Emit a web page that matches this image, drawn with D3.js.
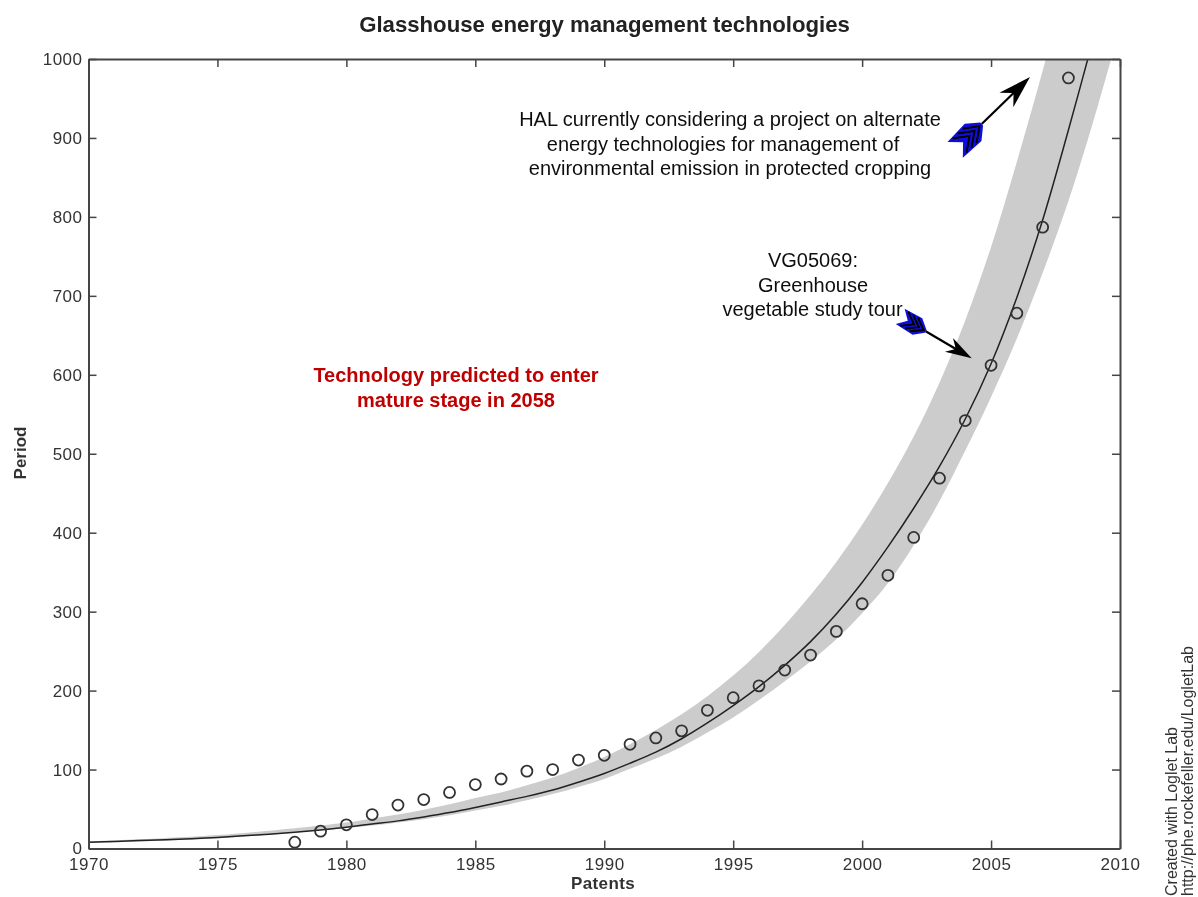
<!DOCTYPE html>
<html>
<head>
    <meta charset="utf-8">
    <title>Glasshouse energy management technologies</title>
    <script src="https://d3js.org/d3.v7.min.js"></script>
    <style>
        html, body {
            margin: 0;
            background: #fff;
            overflow: hidden;
        }
        text {
            font-family: "Liberation Sans", Arial, sans-serif;
        }
    </style>
</head>
<body>
    <svg id="svg"></svg>
    <script>
        // values
        const pointYears = [1978, 1979, 1980, 1981, 1982, 1983, 1984, 1985, 1986, 1987, 1988, 1989, 1990, 1991, 1992, 1993, 1994, 1995, 1996, 1997, 1998, 1999, 2000, 2001, 2002, 2003, 2004, 2005, 2006, 2007, 2008];
        const pointValues = [8, 22, 30, 43, 55, 62, 71, 81, 88, 98, 100, 112, 118, 132, 140, 149, 175, 191, 206, 226, 245, 275, 310, 346, 394, 469, 542, 612, 678, 787, 976];

        const curveYears = [1970, 1971, 1972, 1973, 1974, 1975, 1976, 1977, 1978, 1979, 1980, 1981, 1982, 1983, 1984, 1985, 1986, 1987, 1988, 1989, 1990, 1991, 1992, 1993, 1994, 1995, 1996, 1997, 1998, 1999, 2000, 2001, 2002, 2003, 2004, 2005, 2006, 2007, 2008, 2009];
        const curveValues = [8, 9, 10, 11, 12.5, 14, 16, 18, 20.5, 23.5, 27, 31, 35, 40, 45.5, 52, 59, 66, 74, 84, 95, 108, 122, 139, 159, 181, 205, 232, 262, 297, 337, 382, 431, 484, 544, 614, 698, 796, 910, 1030];

        const bandYears = [1970, 1975, 1980, 1981, 1982, 1983, 1984, 1985, 1986, 1987, 1988, 1989, 1990, 1991, 1992, 1993, 1994, 1995, 1996, 1997, 1998, 1999, 2000, 2001, 2002, 2003, 2004, 2005, 2006, 2007, 2008, 2009, 2010];
        const bandUpper = [9, 17, 33, 38, 43, 49, 56, 64, 71, 80, 90, 102, 116, 132, 150, 170, 193, 219, 249, 283, 321, 363, 410, 463, 522, 590, 669, 762, 870, 985, 1110, 1250, 1400];
        const bandLower = [7, 13, 26, 29, 33, 37, 42, 48, 54, 61, 69, 78, 88, 101, 114, 129, 147, 166, 188, 212, 237, 265, 298, 336, 384, 440, 504, 572, 646, 729, 820, 925, 1040];

        const xTicks = [1970, 1975, 1980, 1985, 1990, 1995, 2000, 2005, 2010];
        const yTicks = [0, 100, 200, 300, 400, 500, 600, 700, 800, 900, 1000];

        const width = 1198;
        const height = 897;
        const margins = { top: 59, left: 88.5, right: 78, bottom: 48.5 };

        const svg = d3.select("#svg")
            .attr("width", width)
            .attr("height", height);

        const defs = svg.append("defs");
        defs.append("clipPath").attr("id", "plotClip")
            .append("rect")
            .attr("x", margins.left)
            .attr("y", margins.top)
            .attr("width", width - margins.left - margins.right)
            .attr("height", height - margins.top - margins.bottom);
        // the reference is a slightly soft scan
        defs.append("filter").attr("id", "soft")
            .attr("x", 0).attr("y", 0).attr("width", 1).attr("height", 1)
            .attr("filterUnits", "objectBoundingBox")
            .append("feGaussianBlur").attr("stdDeviation", 0.45);

        const root = svg.append("g").attr("filter", "url(#soft)");
        root.append("rect").attr("width", width).attr("height", height).attr("fill", "#fff");

        const x = d3.scaleLinear().domain([1970, 2010]).range([margins.left, width - margins.right]);
        const y = d3.scaleLinear().domain([0, 1000]).range([height - margins.bottom, margins.top]);

        const plot = root.append("g").attr("clip-path", "url(#plotClip)");

        const band = d3.area()
            .x((d, i) => x(bandYears[i]))
            .y0((d, i) => y(bandLower[i]))
            .y1((d, i) => y(bandUpper[i]))
            .curve(d3.curveCatmullRom);

        plot.append("path")
            .attr("d", band(bandYears))
            .attr("fill", "#cccccc");

        const line = d3.line()
            .x((d, i) => x(curveYears[i]))
            .y((d, i) => y(curveValues[i]))
            .curve(d3.curveCatmullRom);

        plot.append("path")
            .attr("d", line(curveYears))
            .attr("fill", "none")
            .attr("stroke", "#222")
            .attr("stroke-width", 1.5);

        plot.selectAll("circle")
            .data(pointYears)
            .enter()
            .append("circle")
            .attr("cx", (d, i) => x(pointYears[i]))
            .attr("cy", (d, i) => y(pointValues[i]))
            .attr("r", 5.5)
            .attr("fill", "none")
            .attr("stroke", "#333")
            .attr("stroke-width", 1.8);

        // box with ticks on all four sides, labels only bottom and left
        const axes = [
            { axis: d3.axisBottom(x).tickValues(xTicks).tickFormat(d3.format("d")).tickPadding(9), at: [0, height - margins.bottom] },
            { axis: d3.axisTop(x).tickValues(xTicks).tickFormat(""), at: [0, margins.top] },
            { axis: d3.axisLeft(y).tickValues(yTicks).tickFormat(d3.format("d")).tickPadding(6), at: [margins.left, 0] },
            { axis: d3.axisRight(y).tickValues(yTicks).tickFormat(""), at: [width - margins.right, 0] }
        ];

        axes.forEach(a => {
            const g = root.append("g")
                .attr("transform", `translate(${a.at[0]}, ${a.at[1]})`)
                .call(a.axis.tickSize(-8).tickSizeOuter(0));
            g.select(".domain").attr("stroke", "#444").attr("stroke-width", 2);
            g.selectAll(".tick line").attr("stroke", "#444").attr("stroke-width", 1.5);
            g.selectAll(".tick text")
                .attr("fill", "#333")
                .style("font-family", '"Liberation Sans", Arial, sans-serif')
                .style("font-size", "17px")
                .style("letter-spacing", "0.5px");
        });

        root.append("text")
            .text("Glasshouse energy management technologies")
            .attr("x", 604.5)
            .attr("y", 32)
            .attr("text-anchor", "middle")
            .attr("font-weight", "bold")
            .attr("font-size", 22.2)
            .attr("fill", "#222");

        root.append("text")
            .text("Patents")
            .attr("x", 603)
            .attr("y", 889)
            .attr("text-anchor", "middle")
            .attr("font-weight", "bold")
            .attr("font-size", 17)
            .style("letter-spacing", "0.4px")
            .attr("fill", "#333");

        root.append("text")
            .text("Period")
            .attr("transform", "translate(26, 453) rotate(-90)")
            .attr("text-anchor", "middle")
            .attr("font-weight", "bold")
            .attr("font-size", 17)
            .attr("fill", "#333");

        function multiline(lines, cx, firstY, step, size, color, weight) {
            lines.forEach((s, i) => {
                root.append("text")
                    .text(s)
                    .attr("x", cx[i])
                    .attr("y", firstY + i * step)
                    .attr("text-anchor", "middle")
                    .attr("font-size", size)
                    .attr("font-weight", weight)
                    .attr("fill", color);
            });
        }

        multiline(["HAL currently considering a project on alternate", "energy technologies for management of", "environmental emission in protected cropping"],
            [730, 723, 730], 126, 24.5, 20, "#111", "normal");
        multiline(["VG05069:", "Greenhouse", "vegetable study tour"],
            [813, 813, 812.5], 267, 24.5, 20, "#111", "normal");
        multiline(["Technology predicted to enter", "mature stage in 2058"],
            [456, 456], 382, 24.5, 20, "#c00000", "bold");

        root.append("text")
            .text("Created with Loglet Lab")
            .attr("transform", "translate(1177, 896) rotate(-90)")
            .attr("font-size", 16)
            .attr("fill", "#333");
        root.append("text")
            .text("http://phe.rockefeller.edu/LogletLab")
            .attr("transform", "translate(1193, 896) rotate(-90)")
            .attr("font-size", 16)
            .attr("fill", "#333");

        // feathered arrow, from tail to tip, fletching scaled to fit
        function arrow(x0, y0, x1, y1, k) {
            const len = Math.hypot(x1 - x0, y1 - y0);
            const angle = Math.atan2(y1 - y0, x1 - x0) * 180 / Math.PI;
            const g = root.append("g")
                .attr("transform", `translate(${x0}, ${y0}) rotate(${angle})`);

            g.append("line")
                .attr("x1", 0).attr("y1", 0)
                .attr("x2", len - 12).attr("y2", 0)
                .attr("stroke", "#000")
                .attr("stroke-width", 2.2);

            g.append("path")
                .attr("d", `M${len},0L${len - 33 * k},${-10 * k}L${len - 23 * k},0L${len - 33 * k},${10 * k}Z`)
                .attr("fill", "#000");

            g.append("path")
                .attr("d", `M0,${-2 * k}L${-12 * k},${-12 * k}L${-37 * k},${-11 * k}L${-26 * k},0L${-37 * k},${11 * k}L${-12 * k},${12 * k}L0,${2 * k}Z`)
                .attr("fill", "#1010e0");

            [3, 10, 17].forEach(o => {
                g.append("path")
                    .attr("d", `M${(-o - 14) * k},${-10 * k}L${-o * k},0L${(-o - 14) * k},${10 * k}`)
                    .attr("fill", "none")
                    .attr("stroke", "#000")
                    .attr("stroke-width", 2);
            });
        }

        arrow(981.7, 124, 1030, 77, 1);
        arrow(925.7, 331.3, 971.7, 358.3, 0.8);
    </script>
</body>
</html>
